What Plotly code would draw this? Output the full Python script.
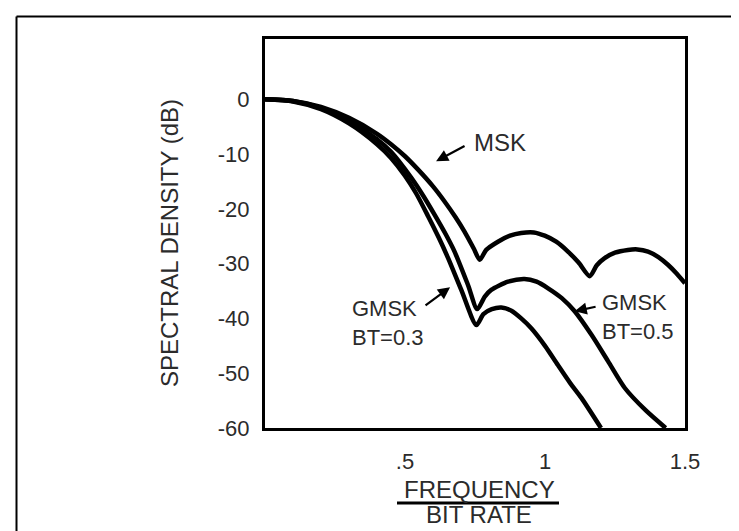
import plotly.graph_objects as go

# ---------------- data ----------------
f_msk = [0, 0.1, 0.2, 0.3, 0.4, 0.45, 0.5, 0.546, 0.6, 0.642, 0.68, 0.713, 0.745, 0.767,
         0.79, 0.832, 0.875, 0.915, 0.96, 0.999, 1.04, 1.082, 1.12, 1.16,
         1.185, 1.213, 1.25, 1.296, 1.33, 1.368, 1.405, 1.439, 1.47, 1.5]
db_msk = [0, -0.3, -1.4, -3.4, -6.3, -8.2, -10.4, -12.8, -15.9, -18.7, -21.5, -24.2, -27.2, -29.3,
          -27.5, -26.0, -24.9, -24.4, -24.3, -24.9, -26.0, -27.8, -29.8, -32.3,
          -30.3, -29.0, -28.0, -27.5, -27.4, -27.8, -28.8, -30.2, -31.8, -33.6]

f_bt05 = [0, 0.1, 0.2, 0.3, 0.4, 0.45, 0.522, 0.565, 0.606, 0.645, 0.677, 0.725, 0.758,
          0.785, 0.808, 0.868, 0.927, 0.97, 1.011, 1.06, 1.106, 1.166, 1.225, 1.285, 1.36, 1.431]
db_bt05 = [0, -0.3, -1.6, -3.9, -7.3, -9.6, -14.3, -17.6, -21.1, -24.6, -27.8, -33.9, -38.3,
           -36.0, -34.8, -33.3, -32.8, -33.3, -34.5, -36.3, -38.7, -43.0, -47.8, -52.7, -56.8, -60]

f_bt03 = [0, 0.1, 0.2, 0.3, 0.4, 0.45, 0.499, 0.54, 0.582, 0.62, 0.654, 0.701, 0.755,
          0.78, 0.81, 0.844, 0.88, 0.915, 0.951, 1.0, 1.046, 1.09, 1.13, 1.2]
db_bt03 = [0, -0.4, -1.8, -4.4, -8.2, -10.7, -13.9, -17.2, -21.3, -25.2, -29.0, -34.8, -41.2,
           -39.2, -38.3, -38.0, -38.6, -40.0, -41.8, -45.0, -48.5, -51.8, -54.5, -60]

x_tickvals = [0.5, 1, 1.5]
x_ticktext = [".5", "1", "1.5"]
y_tickvals = [0, -10, -20, -30, -40, -50, -60]
y_ticktext = ["0", "-10", "-20", "-30", "-40", "-50", "-60"]

FONT = "Liberation Sans, Arial, Helvetica, sans-serif"
TXT = "#2b2b2b"

fig = go.Figure()
for fx, fy, name in [(f_msk, db_msk, "MSK"), (f_bt05, db_bt05, "GMSK BT=0.5"),
                     (f_bt03, db_bt03, "GMSK BT=0.3")]:
    fig.add_trace(go.Scatter(x=fx, y=fy, mode="lines", name=name,
                             line=dict(color="black", width=4.5, shape="spline", smoothing=0.7),
                             showlegend=False, hoverinfo="skip"))

# plot area: x 257..677 px, y 31..420 px
L, R, T, B = 257, 62, 31, 111
W, H = 739, 531
pw, ph = W - L - R, H - T - B

def px(xp):
    return (xp - L) / pw

def py(yp):
    return (H - B - yp) / ph

annotations = []
def text(x, y, s, xanchor="left", xref="x", yref="y", size=24, angle=0):
    annotations.append(dict(x=x, y=y, xref=xref, yref=yref, text=s, showarrow=False,
                            xanchor=xanchor, yanchor="middle", textangle=angle, align="left",
                            font=dict(family=FONT, size=size, color=TXT)))

def arrow(x0, y0, x1, y1):
    annotations.append(dict(x=x1, y=y1, ax=x0, ay=y0, xref="x", yref="y", axref="x", ayref="y",
                            text="", showarrow=True, arrowhead=2, arrowsize=1.1, arrowwidth=2.2,
                            arrowcolor="black", standoff=0, startstandoff=0))

text(0.74, -7.8, "MSK")
arrow(0.718, -8.4, 0.611, -11.3)
text(0.304, -40.9, "GMSK<br>BT=0.3", size=22)
arrow(0.568, -37.8, 0.661, -34.3)
text(1.195, -39.7, "GMSK<br>BT=0.5", size=22)
arrow(1.186, -37.8, 1.106, -38.7)

# axis titles
text(px(161), py(235), "SPECTRAL DENSITY (dB)", xanchor="center", xref="paper", yref="paper", angle=-90)
text(px(471), py(481.5), "FREQUENCY", xanchor="center", xref="paper", yref="paper")
text(px(471), py(506), "BIT RATE", xanchor="center", xref="paper", yref="paper")

shapes = [
    dict(type="line", xref="paper", yref="paper", x0=px(389), x1=px(551), y0=py(495), y1=py(495),
         line=dict(color="black", width=3)),
    # outer frame (top and left edges)
    dict(type="line", xref="paper", yref="paper", x0=px(8.5), x1=px(731), y0=py(8.5), y1=py(8.5),
         line=dict(color="black", width=2)),
    dict(type="line", xref="paper", yref="paper", x0=px(8.5), x1=px(8.5), y0=py(8.5), y1=py(531),
         line=dict(color="black", width=2)),
]

fig.update_layout(
    width=W, height=H,
    margin=dict(l=L, r=R, t=T, b=B),
    paper_bgcolor="white", plot_bgcolor="white",
    annotations=annotations, shapes=shapes,
    font=dict(family=FONT, color=TXT),
)
fig.update_xaxes(range=[0, 1.5], tickvals=x_tickvals, ticktext=x_ticktext,
                 showgrid=False, zeroline=False, showline=True, linecolor="black", linewidth=3,
                 mirror=True, ticks="", ticklabelstandoff=12,
                 tickfont=dict(family=FONT, size=22, color=TXT))
fig.update_yaxes(range=[-60, 11], tickvals=y_tickvals, ticktext=y_ticktext,
                 showgrid=False, zeroline=False, showline=True, linecolor="black", linewidth=3,
                 mirror=True, ticks="", ticklabelstandoff=8,
                 tickfont=dict(family=FONT, size=22, color=TXT))

fig.write_html("out.html")
